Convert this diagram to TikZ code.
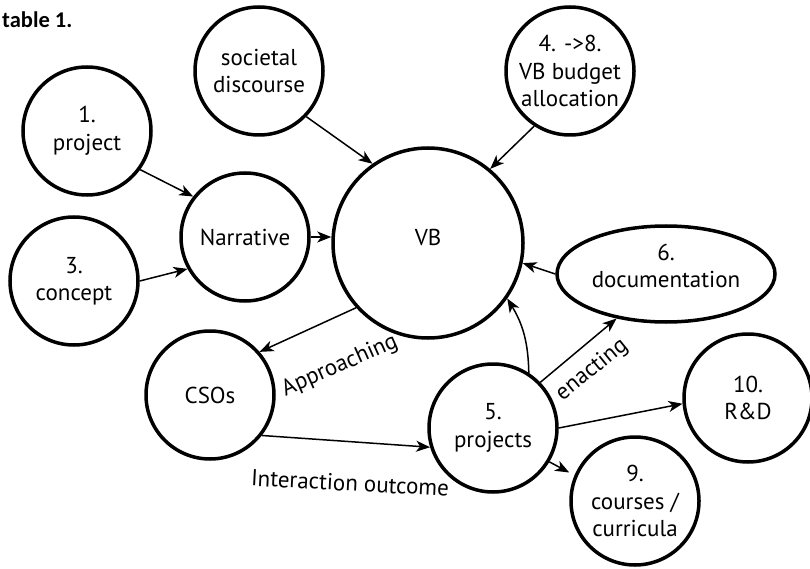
\documentclass[tikz,border=0pt]{standalone}
\usepackage{fontspec}
\setmainfont{PT Sans}
\newfontfamily\capfont{Carlito}
\usetikzlibrary{arrows.meta,shapes.geometric}
\begin{document}
\begin{tikzpicture}[x=1pt,y=-1pt,
  every node/.style={font=\fontsize{23}{27.5}\selectfont, align=center, inner sep=0pt},
  bubble/.style={circle, draw, line width=3.5pt, minimum size=128pt},
  hub/.style={circle, draw, line width=3.5pt, minimum size=190pt},
  oval/.style={ellipse, draw, line width=3.5pt, minimum width=218pt, minimum height=96pt},
  link/.style={line width=1.5pt, -{Stealth[length=14pt,width=11pt,inset=4pt]}},
  tag/.style={font=\fontsize{23}{27}\selectfont}
]
\useasboundingbox (0,0) rectangle (810,569);

% caption fragment
\node[anchor=base west, font=\capfont\bfseries\fontsize{22.5}{26}\selectfont] (cap) at (2,28) {table 1.};

% actors and artefacts
\node[bubble] (sd)  at (259,71)  {societal\\discourse};
\node[bubble] (bud) at (570,71)  {4. ->8.\\VB budget\\allocation};
\node[bubble] (prj) at (87,131)  {1.\\project};
\node[bubble] (con) at (74,281)  {3.\\concept};
\node[bubble] (nar) at (245,237) {Narrative};
\node[hub]    (vb)  at (428,243) {VB\rule[-12pt]{0pt}{0pt}};
\node[oval]   (doc) at (666,274) {6.\\documentation\rule[-16pt]{0pt}{0pt}};
\node[bubble] (cso) at (210,395) {CSOs};
\node[bubble] (pro) at (493,428) {5.\\projects};
\node[bubble] (rd)  at (748,398) {10.\\R\&D};
\node[bubble] (cur) at (635,501) {9.\\courses /\\curricula};

% relations
\draw[link] (sd.-44) -- (vb.125);
\draw[link] (bud.237) -- (vb.50);
\draw[link] (prj.-36) -- (nar.142);
\draw[link] (con.0) -- (nar.209);
\draw[link] (nar.east) -- (vb.west |- nar.east);
\draw[link] (vb.222) -- (cso.41);
\draw[link] (doc.west) -- (vb.-12);
\draw[link] (cso.-38) -- (pro.197);
\draw[link] (pro.57) to[bend right=15] (vb.-35);
\draw[link] (pro.44) -- (doc.222);
\draw[link] (pro.0) -- (rd.185);
\draw[link, shorten >=6pt] (pro.-31) -- (cur.157);

% relation labels
\node[tag, rotate=24] (appr) at (340,366) {Approaching};
\node[tag, rotate=39] (enac) at (592,370) {enacting};
\node[tag, rotate=-3] (io)   at (350,483) {Interaction outcome};
\end{tikzpicture}
\end{document}
